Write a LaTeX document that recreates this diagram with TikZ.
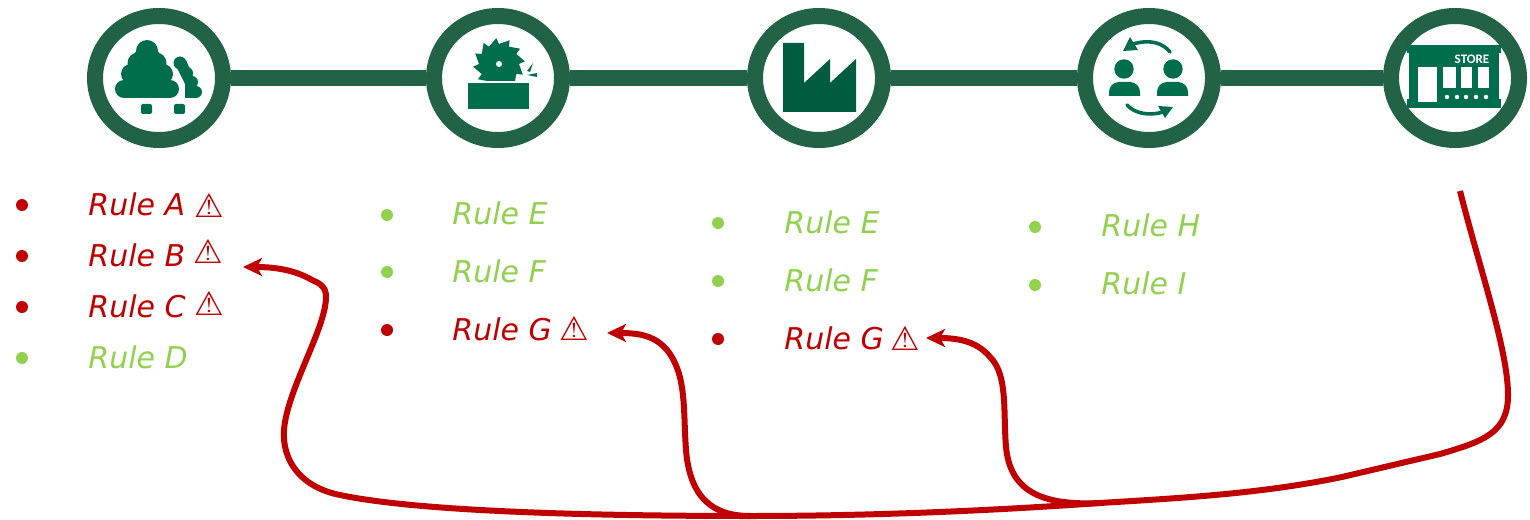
\documentclass[tikz,border=0pt]{standalone}
\usepackage{fontspec}
\setmainfont{DejaVu Sans}
\newfontfamily\storefont{Carlito}
\usetikzlibrary{arrows.meta,shapes.geometric}
\definecolor{ringgreen}{HTML}{226347}
\definecolor{icongreen}{HTML}{006E4D}
\definecolor{factorygreen}{HTML}{005C40}
\definecolor{rulered}{HTML}{C00000}
\definecolor{rulegreen}{HTML}{92D050}
\tikzset{
  stage/.style={draw=ringgreen, line width=8pt, ellipse, fill=white, inner sep=0pt, minimum width=64pt, minimum height=62pt},
  bar/.style={draw=ringgreen, line width=8pt},
  icon/.style={fill=icongreen},
  redrule/.style={anchor=base west, inner sep=0pt, text=rulered, font=\fontsize{15}{18}\selectfont\itshape},
  okrule/.style={anchor=base west, inner sep=0pt, text=rulegreen, font=\fontsize{15}{18}\selectfont\itshape},
  redbullet/.style={circle, fill=rulered, inner sep=0pt, minimum size=6pt},
  okbullet/.style={circle, fill=rulegreen, inner sep=0pt, minimum size=6pt},
  warn/.style={inner sep=0pt, text=rulered, font=\fontsize{16.5}{18}\selectfont\bfseries},
  link/.style={draw=rulered, line width=3pt},
  linkarrow/.style={link, -{Stealth[length=9.5pt,width=9pt,inset=2.5pt]}}
}
\begin{document}
\begin{tikzpicture}[x=0.5pt,y=-0.5pt]
\useasboundingbox (0,0) rectangle (1530,519);
\node (tree) [stage] at (159,78) {};
\node (saw) [stage] at (498,78) {};
\node (factory) [stage] at (819,78) {};
\node (people) [stage] at (1149,78) {};
\node (store) [stage] at (1455,78) {};
\draw [bar] (tree) -- (saw);
\draw [bar] (saw) -- (factory);
\draw [bar] (factory) -- (people);
\draw [bar] (people) -- (store);

\fill [icon] (147,51) circle [radius=11];
\fill [icon] (138,63) circle [radius=10.5] (156,63) circle [radius=10.5];
\fill [icon] (131,74) circle [radius=10] (163,74) circle [radius=10];
\fill [icon] (135,52) rectangle (159,85);
\fill [icon, rounded corners=4.5pt] (115,80) rectangle (179,98);
\fill [icon, rounded corners=1pt] (141,104) rectangle (152,114);
\fill [icon, rounded corners=1pt] (174,104) rectangle (185,114);
\fill [icon] (180,63) circle [radius=6.5] (187,73) circle [radius=6] (192,82) circle [radius=6] (196,92) circle [radius=6];
\fill [icon] (175,64) -- (186,60) -- (197,86) -- (196,98) -- (185,98) -- (185,84) -- cycle;

\begin{scope}
\clip (460,30) rectangle (540,81);
\fill [icon, shift={(499,64)}] (0:20) \foreach \a in {0,30,...,330} {-- (\a+24:26) -- (\a+30:20)} -- cycle;
\end{scope}
\fill [white] (499,64) circle [radius=3];
\fill [icon] (468,83) rectangle (529,109);
\fill [icon] (527,71) -- (533,63) -- (530,72) -- cycle;
\fill [icon] (527,75) -- (537,73) -- (537,77) -- cycle;

\fill [factorygreen] (783,43) -- (804,43) -- (804,83) -- (830,59) -- (830,83) -- (856,59) -- (856,112) -- (783,112) -- cycle;

\fill [icon] (1124,69) circle [radius=9.7] (1173,69) circle [radius=9.7];
\fill [icon] (1109,96) [rounded corners=5pt] -- (1109,82) -- (1140,82) [sharp corners] -- (1140,96) -- cycle;
\fill [icon] (1157,96) [rounded corners=5pt] -- (1157,82) -- (1188,82) [sharp corners] -- (1188,96) -- cycle;
\draw [icongreen, line width=1.8pt, line cap=round] (1170,52) .. controls (1163,43) and (1150,39) .. (1133,44);
\fill [icon] (1130,37) -- (1123,51) -- (1138,50) -- cycle;
\draw [icongreen, line width=1.8pt, line cap=round] (1127,105) .. controls (1135,114) and (1150,116) .. (1163,112);
\fill [icon] (1158,106) -- (1173,107) -- (1165,118) -- cycle;

\fill [icon] (1407,45) rectangle (1501,53);
\fill [icon] (1407,99) rectangle (1501,108);
\fill [icon] (1409,45) rectangle (1499,108);
\fill [white] (1418,67) rectangle (1437,102);
\fill [white] (1443,67) rectangle (1456,88);
\fill [white] (1461,67) rectangle (1472,88);
\fill [white] (1478,67) rectangle (1489,88);
\foreach \x in {1447,1457,1466,1476,1486} \fill [white] (\x,97) circle [radius=2.2];
\node (storesign) [inner sep=0pt, text=white, font=\storefont\bfseries\fontsize{6.5}{7}\selectfont] at (1472,59) {STORE};

\node (bulletA) [redbullet] at (22,205) {};
\node (bulletB) [redbullet] at (22,256) {};
\node (bulletC) [redbullet] at (22,307) {};
\node (bulletD) [okbullet] at (22,358) {};
\node (ruleA) [redrule] at (88,215) {Rule A};
\node (ruleB) [redrule] at (88,266) {Rule B};
\node (ruleC) [redrule] at (88,317) {Rule C};
\node (ruleD) [okrule] at (88,368) {Rule D};
\node (warnA) [warn] at (209,205) {⚠};
\node (warnB) [warn] at (208,251) {⚠};
\node (warnC) [warn] at (209,303) {⚠};

\node (bulletE) [okbullet] at (387,215) {};
\node (bulletF) [okbullet] at (387,272) {};
\node (bulletG) [redbullet] at (387,330) {};
\node (ruleE) [okrule] at (452,224) {Rule E};
\node (ruleF) [okrule] at (452,282) {Rule F};
\node (ruleG) [redrule] at (452,340) {Rule G};
\node (warnG) [warn] at (574,328) {⚠};

\node (bulletEE) [okbullet] at (718,223) {};
\node (bulletFF) [okbullet] at (718,281) {};
\node (bulletGG) [redbullet] at (718,339) {};
\node (ruleEE) [okrule] at (784,233) {Rule E};
\node (ruleFF) [okrule] at (784,291) {Rule F};
\node (ruleGG) [redrule] at (784,349) {Rule G};
\node (warnGG) [warn] at (905,338) {⚠};

\node (bulletH) [okbullet] at (1035,227) {};
\node (bulletI) [okbullet] at (1035,285) {};
\node (ruleH) [okrule] at (1101,236) {Rule H};
\node (ruleI) [okrule] at (1101,294) {Rule I};

\coordinate (linkstart) at (1460,191);
\coordinate (forkright) at (1100,503);
\coordinate (forkleft) at (750,516);
\coordinate (targetB) at (243,267);
\coordinate (targetG) at (607,333);
\coordinate (targetGG) at (926,338);
\draw [linkarrow] (linkstart) .. controls (1480,270) and (1508,350) .. (1508,395) .. controls (1508,432) and (1485,441) .. (1440,454) -- (1342,477) .. controls (1260,494) and (1180,498) .. (forkright) .. controls (1000,510) and (880,516) .. (forkleft) .. controls (600,516) and (420,512) .. (340,495) .. controls (300,487) and (282,460) .. (284,430) .. controls (287,390) and (325,330) .. (326,298) .. controls (327,285) and (316,282) .. (312,280) .. controls (295,270) and (275,267) .. (targetB);
\draw [linkarrow] (forkleft) .. controls (715,516) and (690,500) .. (686,450) .. controls (683,410) and (687,375) .. (667,350) .. controls (655,336) and (640,333) .. (targetG);
\draw [linkarrow] (forkright) .. controls (1040,506) and (1010,490) .. (1006,447) .. controls (1003,410) and (1008,375) .. (990,357) .. controls (976,340) and (955,338) .. (targetGG);
\end{tikzpicture}
\end{document}
